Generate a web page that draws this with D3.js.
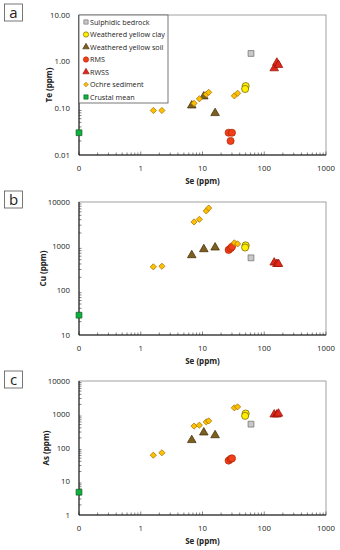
<!DOCTYPE html>
<html>
<head>
<meta charset="utf-8">
<script src="https://cdn.jsdelivr.net/npm/d3@7"></script>
<style>
  body { margin: 0; background: #fff; }
  svg { font-family: "Open Sans", sans-serif; }
</style>
</head>
<body>
<div id="chart"></div>
<script>
/* DATA */
// Se is plotted on a log axis, the "0" label sits at 0.1
const seriesNames = ["Sulphidic bedrock", "Weathered yellow clay", "Weathered yellow soil",
  "RMS", "RWSS", "Ochre sediment", "Crustal mean"];

const bedrockSe = [61];
const bedrockTe = [1.5];
const bedrockCu = [550];
const bedrockAs = [515];

const claySe = [50, 49];
const clayTe = [0.30, 0.26];
const clayCu = [1050, 940];
const clayAs = [1070, 910];

const soilSe = [6.7, 10.5, 16];
const soilTe = [0.115, 0.18, 0.079];
const soilCu = [630, 860, 940];
const soilAs = [172, 290, 240];

const rmsSe = [26.5, 28.5, 30];
const rmsTe = [0.03, 0.02, 0.03];
const rmsCu = [830, 900, 980];
const rmsAs = [42, 47, 49];

const rwssSe = [145, 160, 170];
const rwssTe = [0.72, 0.95, 0.85];
const rwssCu = [430, 400, 400];
const rwssAs = [1000, 1000, 1060];

const ochreSe = [1.6, 2.2, 7.3, 8.9, 11.5, 12.6, 32.8, 37];
const ochreTe = [0.09, 0.09, 0.128, 0.16, 0.20, 0.22, 0.185, 0.21];
const ochreCu = [345, 355, 3550, 4070, 6300, 7300, 1200, 1135];
const ochreAs = [61, 72, 450, 480, 600, 645, 1580, 1690];

const crustSe = [0.1];
const crustTe = [0.03];
const crustCu = [28];
const crustAs = [4.8];

const xTicks = [0.1, 1, 10, 100, 1000];
const xTickLabels = ["0", "1", "10", "100", "1000"];
const teTickLabels = ["0.01", "0.10", "1.00", "10.00"];

/* STYLES */
const styles = [
  {shape: "square",   fill: "#c8c8c8", stroke: "#6b6b6b"},
  {shape: "circle",   fill: "#ffee00", stroke: "#6b5a00"},
  {shape: "triangle", fill: "#7f5f1f", stroke: "#3a2a00"},
  {shape: "circle",   fill: "#f0401a", stroke: "#b02000"},
  {shape: "triangle", fill: "#e0281c", stroke: "#901000"},
  {shape: "diamond",  fill: "#ffc000", stroke: "#a07000"},
  {shape: "square",   fill: "#10b040", stroke: "#106020"}
];

const W = 340, H = 550;
const left = 79, right = 326;

const svg = d3.select("#chart").append("svg")
  .attr("width", W).attr("height", H);

const xScale = d3.scaleLog().domain([0.1, 1000]).range([left, right]);

// marker: path plus extra rotation (diamond = square turned 45deg)
function marker(shape, k) {
  if (shape === "square") return {d: d3.symbol(d3.symbolSquare, 34 * k)(), rot: 0};
  if (shape === "circle") return {d: d3.symbol(d3.symbolCircle, 40 * k)(), rot: 0};
  if (shape === "triangle") return {d: d3.symbol(d3.symbolTriangle, 32 * k)(), rot: 0};
  return {d: d3.symbol(d3.symbolSquare, 19 * k)(), rot: 45};
}

function drawPanel(p) {
  const yScale = d3.scaleLog().domain(p.yDomain).range([p.bottom, p.top]);
  const g = svg.append("g");

  // frame
  g.append("rect")
    .attr("x", left).attr("y", p.top)
    .attr("width", right - left).attr("height", p.bottom - p.top)
    .attr("fill", "none").attr("stroke", "#8a8a8a").attr("stroke-width", 0.8);

  // minor ticks on x (inside)
  const xMinor = [];
  for (let e = -1; e < 3; e++) for (let k = 2; k <= 9; k++) xMinor.push(k * Math.pow(10, e));
  g.selectAll(".xminor").data(xMinor).enter().append("line")
    .attr("x1", d => xScale(d)).attr("x2", d => xScale(d))
    .attr("y1", p.bottom).attr("y2", p.bottom - 2.5)
    .attr("stroke", "#333").attr("stroke-width", 0.6);
  g.selectAll(".xmajor").data(xTicks).enter().append("line")
    .attr("x1", d => xScale(d)).attr("x2", d => xScale(d))
    .attr("y1", p.bottom).attr("y2", p.bottom - 3.5)
    .attr("stroke", "#333").attr("stroke-width", 0.6);

  // minor ticks on y (inside)
  const yMinor = [];
  const e0 = Math.round(Math.log10(p.yDomain[0])), e1 = Math.round(Math.log10(p.yDomain[1]));
  for (let e = e0; e < e1; e++) for (let k = 2; k <= 9; k++) yMinor.push(k * Math.pow(10, e));
  g.selectAll(".yminor").data(yMinor).enter().append("line")
    .attr("x1", left).attr("x2", left + 2.5)
    .attr("y1", d => yScale(d)).attr("y2", d => yScale(d))
    .attr("stroke", "#333").attr("stroke-width", 0.6);

  // axis lines
  g.append("line").attr("x1", left).attr("x2", right)
    .attr("y1", p.bottom).attr("y2", p.bottom).attr("stroke", "#111").attr("stroke-width", 1);
  g.append("line").attr("x1", left).attr("x2", left)
    .attr("y1", p.top).attr("y2", p.bottom).attr("stroke", "#111").attr("stroke-width", 1);

  // tick labels
  g.selectAll(".xlab").data(xTicks).enter().append("text")
    .attr("x", d => xScale(d)).attr("y", p.bottom + 16)
    .attr("text-anchor", "middle").attr("font-size", 7.8).attr("fill", "#222")
    .text((d, i) => xTickLabels[i]);
  g.selectAll(".ylab").data(p.yTicks).enter().append("text")
    .attr("x", 70).attr("y", d => yScale(d) + 2.8)
    .attr("text-anchor", "end").attr("font-size", 7.8).attr("fill", "#222")
    .text((d, i) => p.yTickLabels[i]);

  // axis titles
  g.append("text")
    .attr("x", (left + right) / 2).attr("y", p.bottom + 29)
    .attr("text-anchor", "middle").attr("font-size", 8).attr("font-weight", "bold").attr("fill", "#222")
    .text("Se (ppm)");
  g.append("text")
    .attr("transform", "translate(" + p.titleX + "," + ((p.top + p.bottom) / 2) + ") rotate(-90)")
    .attr("text-anchor", "middle").attr("font-size", 8).attr("font-weight", "bold").attr("fill", "#222")
    .text(p.yTitle);

  // panel letter
  g.append("rect").attr("x", 4.5).attr("y", p.letterY).attr("width", 18).attr("height", 17)
    .attr("fill", "#fff").attr("stroke", "#555").attr("stroke-width", 0.8);
  g.append("text").attr("x", 13.5).attr("y", p.letterY + 13.5)
    .attr("text-anchor", "middle").attr("font-size", 15).attr("fill", "#222")
    .text(p.letter);

  // points, drawn series by series in legend order
  p.series.forEach((s, i) => {
    const m = marker(styles[i].shape, 1);
    const pts = s.x.map((v, j) => [v, s.y[j]]);
    g.selectAll(".pt" + i).data(pts).enter().append("path")
      .attr("d", m.d)
      .attr("transform", d => "translate(" + xScale(d[0]) + "," + yScale(d[1]) + ") rotate(" + m.rot + ")")
      .attr("fill", styles[i].fill).attr("stroke", styles[i].stroke).attr("stroke-width", 0.7);
  });
}

drawPanel({
  letter: "a", letterY: 4, top: 15, bottom: 155, yDomain: [0.01, 10],
  yTicks: [0.01, 0.1, 1, 10], yTickLabels: teTickLabels, yTitle: "Te (ppm)", titleX: 52,
  series: [
    {x: bedrockSe, y: bedrockTe}, {x: claySe, y: clayTe}, {x: soilSe, y: soilTe},
    {x: rmsSe, y: rmsTe}, {x: rwssSe, y: rwssTe}, {x: ochreSe, y: ochreTe}, {x: crustSe, y: crustTe}
  ]
});

drawPanel({
  letter: "b", letterY: 191, top: 202, bottom: 335, yDomain: [10, 10000],
  yTicks: [10, 100, 1000, 10000], yTickLabels: ["10", "100", "1000", "10000"], yTitle: "Cu (ppm)", titleX: 46,
  series: [
    {x: bedrockSe, y: bedrockCu}, {x: claySe, y: clayCu}, {x: soilSe, y: soilCu},
    {x: rmsSe, y: rmsCu}, {x: rwssSe, y: rwssCu}, {x: ochreSe, y: ochreCu}, {x: crustSe, y: crustCu}
  ]
});

drawPanel({
  letter: "c", letterY: 371, top: 381, bottom: 515, yDomain: [1, 10000],
  yTicks: [1, 10, 100, 1000, 10000], yTickLabels: ["1", "10", "100", "1000", "10000"], yTitle: "As (ppm)", titleX: 49,
  series: [
    {x: bedrockSe, y: bedrockAs}, {x: claySe, y: clayAs}, {x: soilSe, y: soilAs},
    {x: rmsSe, y: rmsAs}, {x: rwssSe, y: rwssAs}, {x: ochreSe, y: ochreAs}, {x: crustSe, y: crustAs}
  ]
});

/* LEGEND (panel a) */
const legend = svg.append("g");
legend.append("rect").attr("x", 79).attr("y", 15).attr("width", 89).attr("height", 88)
  .attr("fill", "#fff").attr("stroke", "#555").attr("stroke-width", 0.8);
seriesNames.forEach((name, i) => {
  const y = 22 + i * 12.5;
  const m = marker(styles[i].shape, 0.55);
  legend.append("path")
    .attr("d", m.d)
    .attr("transform", "translate(86," + y + ") rotate(" + m.rot + ")")
    .attr("fill", styles[i].fill).attr("stroke", styles[i].stroke).attr("stroke-width", 0.6);
  legend.append("text").attr("x", 90).attr("y", y + 2.5)
    .attr("font-size", 7.2).attr("fill", "#222").text(name);
});
</script>
</body>
</html>
